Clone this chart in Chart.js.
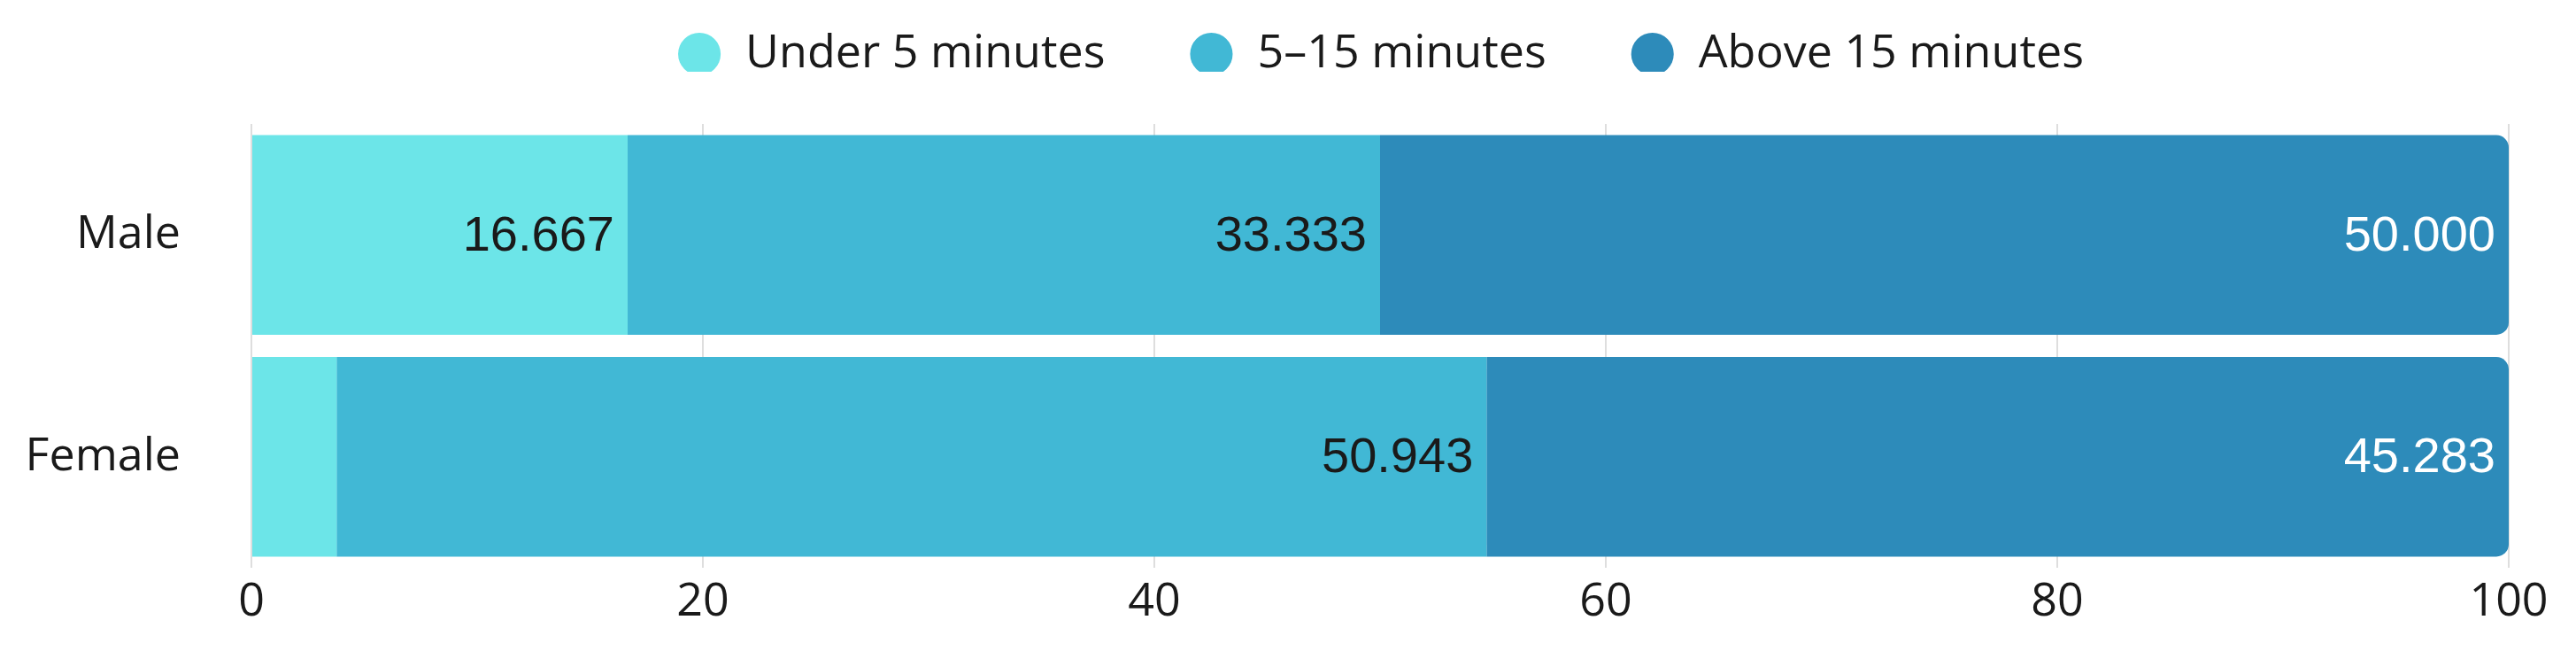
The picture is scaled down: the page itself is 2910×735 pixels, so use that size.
<!DOCTYPE html>
<html>
<head>
<meta charset="utf-8">
<script src="https://cdn.jsdelivr.net/npm/chart.js@4.4.1/dist/chart.umd.min.js"></script>
<style>
html, body { margin: 0; padding: 0; background: #fff; }
#wrap { width: 2910px; height: 735px; }
</style>
</head>
<body>
<div id="wrap"><canvas id="plot"></canvas></div>
<script>
var groups = ['Male', 'Female'];
var seriesNames = ['Under 5 minutes', '5–15 minutes', 'Above 15 minutes'];
var under5 = [16.667, 3.774];
var mid = [33.333, 50.943];
var above15 = [50.000, 45.283];
var xTicks = [0, 20, 40, 60, 80, 100];

var colors = ['#6ce5e8', '#41b8d5', '#2d8bba'];
var labelColors = ['#1a1a1a', '#1a1a1a', '#ffffff'];

// value labels at the end of each segment (no datalabels plugin offline)
var valueLabels = {
    id: 'valueLabels',
    afterDatasetsDraw: function (chart) {
        var ctx = chart.ctx;
        ctx.save();
        ctx.font = '56px "Liberation Sans", Arial, sans-serif';
        ctx.textAlign = 'right';
        ctx.textBaseline = 'middle';
        chart.data.datasets.forEach(function (ds, i) {
            chart.getDatasetMeta(i).data.forEach(function (bar, j) {
                var p = bar.getProps(['x', 'y', 'base'], true);
                var txt = ds.data[j].toFixed(3);
                var w = ctx.measureText(txt).width;
                if (Math.abs(p.x - p.base) < w + 24) return;
                ctx.fillStyle = labelColors[i];
                ctx.fillText(txt, p.x - 15, p.y + 2);
            });
        });
        ctx.restore();
    }
};

// the wide legend spacing needs a big padding, which would push the row down; pull it back up
var legendShift = {
    id: 'legendShift',
    beforeDraw: function (chart) {
        var lg = chart.legend;
        if (!lg || lg._shifted) return;
        var draw = lg.draw;
        lg.draw = function () {
            var c = this.ctx;
            c.save();
            c.translate(0, -59);
            draw.apply(this, arguments);
            c.restore();
        };
        lg._shifted = true;
    }
};

new Chart(document.getElementById('plot'), {
    type: 'bar',
    data: {
        labels: groups,
        datasets: [
            { label: seriesNames[0], data: under5, backgroundColor: colors[0] },
            { label: seriesNames[1], data: mid, backgroundColor: colors[1] },
            {
                label: seriesNames[2], data: above15, backgroundColor: colors[2],
                borderSkipped: false,
                borderRadius: { topLeft: 0, bottomLeft: 0, topRight: 14, bottomRight: 14 }
            }
        ]
    },
    options: {
        indexAxis: 'y',
        responsive: true,
        maintainAspectRatio: false,
        animation: false,
        datasets: { bar: { categoryPercentage: 1, barPercentage: 0.9, borderWidth: 0 } },
        layout: { padding: { top: 0, right: 76, bottom: 0, left: 0 } },
        plugins: {
            tooltip: { enabled: false },
            legend: {
                position: 'top',
                fullSize: false,
                maxHeight: 140,
                labels: {
                    usePointStyle: true,
                    pointStyle: 'circle',
                    boxWidth: 52,
                    boxHeight: 34,
                    padding: 94,
                    color: '#1a1a1a',
                    font: { family: '"Open Sans", sans-serif', size: 52 }
                }
            }
        },
        scales: {
            x: {
                stacked: true,
                min: 0,
                max: 100,
                afterBuildTicks: function (s) { s.ticks = xTicks.map(function (v) { return { value: v }; }); },
                afterFit: function (s) { s.height = 94; },
                grid: { color: '#dedede', lineWidth: 2, drawTicks: false },
                border: { display: false },
                ticks: { padding: 8, color: '#1a1a1a', font: { family: '"Open Sans", sans-serif', size: 52 } }
            },
            y: {
                stacked: true,
                afterFit: function (s) {
                    s.width = 284;
                    s.paddingTop = 0;
                    s.paddingBottom = 0;
                },
                grid: { display: false, drawTicks: false },
                border: { display: false },
                ticks: { padding: 80, color: '#1a1a1a', font: { family: '"Open Sans", sans-serif', size: 52 } }
            }
        }
    },
    plugins: [valueLabels, legendShift]
});
</script>
</body>
</html>
